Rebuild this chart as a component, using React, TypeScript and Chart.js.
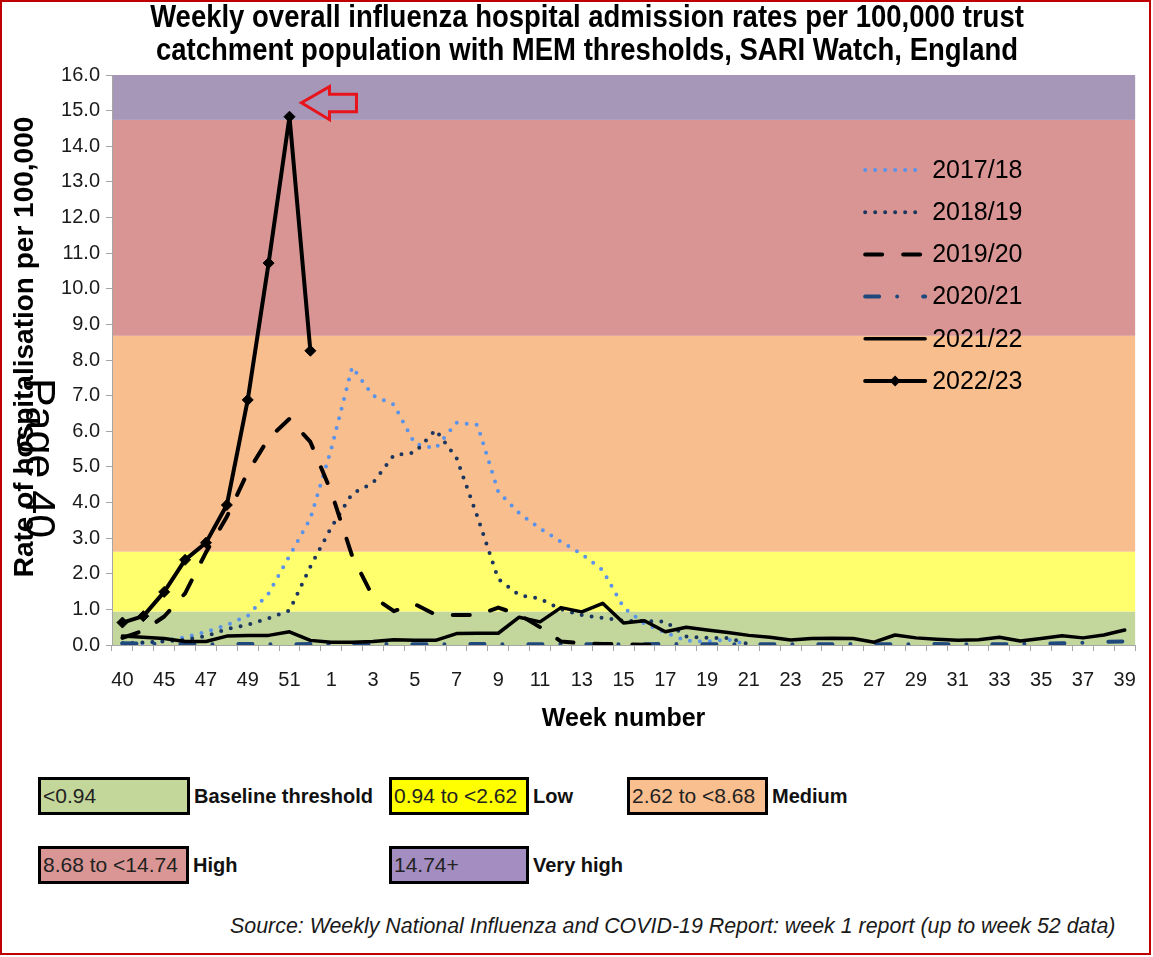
import React, { useEffect, useRef } from 'react';
import { Chart, registerables } from 'chart.js';

Chart.register(...registerables);

// ---------- data ----------
const weekLabels = ['40', '44', '45', '46', '47', '48', '49', '50', '51', '52',
  '1', '2', '3', '4', '5', '6', '7', '8', '9', '10',
  '11', '12', '13', '14', '15', '16', '17', '18', '19', '20',
  '21', '22', '23', '24', '25', '26', '27', '28', '29', '30',
  '31', '32', '33', '34', '35', '36', '37', '38', '39'];

const seasons = ['2017/18', '2018/19', '2019/20', '2020/21', '2021/22', '2022/23'];

const rate1718 = [0.03, 0.05, 0.12, 0.22, 0.37, 0.56, 0.82, 1.45, 2.5, 3.55,
  5.5, 7.8, 7.0, 6.75, 5.65, 5.52, 6.24, 6.18, 4.3, 3.7,
  3.27, 2.9, 2.55, 2.1, 1.05, 0.6, 0.35, 0.12, 0.1, 0.15, 0.0];

const rate1819 = [0.05, 0.07, 0.1, 0.15, 0.25, 0.45, 0.57, 0.75, 0.97, 2.2,
  3.3, 4.25, 4.55, 5.33, 5.4, 6.04, 5.25, 3.6, 1.85, 1.4,
  1.3, 1.0, 0.84, 0.76, 0.68, 0.67, 0.66, 0.24, 0.2, 0.2, 0.02];

const rate1920 = [0.2, 0.4, 0.8, 1.45, 2.6, 3.6, 4.85, 5.8, 6.35, 5.7,
  4.3, 2.5, 1.35, 0.95, 1.15, 0.85, 0.84, 0.84, 1.05, 0.85,
  0.5, 0.1, 0.05, 0.03, 0.02, 0.01, 0.01];

const rate2021 = [0.05, 0.04, 0.03, 0.03, 0.02, 0.02, 0.03, 0.02, 0.02, 0.03,
  0.02, 0.02, 0.02, 0.03, 0.02, 0.02, 0.02, 0.03, 0.02, 0.02,
  0.02, 0.03, 0.02, 0.02, 0.02, 0.02, 0.03, 0.02, 0.02, 0.02,
  0.03, 0.02, 0.02, 0.02, 0.02, 0.03, 0.02, 0.02, 0.02, 0.03,
  0.02, 0.02, 0.02, 0.03, 0.04, 0.05, 0.06, 0.09, 0.1];

const rate2122 = [0.25, 0.22, 0.18, 0.1, 0.1, 0.25, 0.27, 0.27, 0.37, 0.13,
  0.08, 0.08, 0.1, 0.15, 0.13, 0.13, 0.32, 0.33, 0.33, 0.78,
  0.65, 1.05, 0.93, 1.17, 0.62, 0.68, 0.37, 0.5, 0.42, 0.35,
  0.27, 0.22, 0.14, 0.18, 0.19, 0.18, 0.08, 0.28, 0.2, 0.16,
  0.13, 0.15, 0.22, 0.11, 0.18, 0.26, 0.2, 0.28, 0.42];

const rate2223 = [0.63, 0.81, 1.49, 2.39, 2.87, 3.93, 6.88, 10.72, 14.83, 8.26];

const seasonRates = [rate1718, rate1819, rate1920, rate2021, rate2122, rate2223];

const thresholdBounds = [0, 0.94, 2.62, 8.68, 14.74, 16];
const thresholdLabels = ['<0.94', '0.94 to <2.62', '2.62 to <8.68', '8.68 to <14.74', '14.74+'];
const thresholdNames = ['Baseline threshold', 'Low', 'Medium', 'High', 'Very high'];

const titleLines = [
  'Weekly overall influenza hospital admission rates per 100,000 trust',
  'catchment population with MEM thresholds, SARI Watch, England',
];
const yTitle = 'Rate of hospitalisation per 100,000';
const xTitle = 'Week number';
const sourceText = 'Source: Weekly National Influenza and COVID-19 Report: week 1 report (up to week 52 data)';
const pageStamp = 'Page 40';

// ---------- styles ----------
const FONT = "'Liberation Sans', Arial, sans-serif";

const bandColors = ['#C3D69B', '#FFFF6E', '#F9BE8E', '#D99594', '#A696B8'];
const boxColors = ['#C4D79B', '#FFFF00', '#FABF8F', '#DA9694', '#A48DC0'];

const seriesStyles = [
  { color: '#5B93E8', width: 4, dash: [0, 10], order: 6, marker: false },
  { color: '#1B365E', width: 4, dash: [0, 10], order: 5, marker: false },
  { color: '#000000', width: 4, dash: [17, 21], order: 3, marker: false },
  { color: '#1F497D', width: 4, dash: [14, 18, 0, 26], order: 4, marker: false },
  { color: '#000000', width: 3.5, dash: [], order: 2, marker: false },
  { color: '#000000', width: 4, dash: [], order: 1, marker: true },
];

const boxLayout = [
  { left: 38, top: 777, width: 152 },
  { left: 389, top: 777, width: 140 },
  { left: 627, top: 777, width: 141 },
  { left: 38, top: 846, width: 151 },
  { left: 389, top: 846, width: 140 },
];

// ---------- plugins ----------
const bandPlugin = {
  id: 'bands',
  beforeDraw(chart: any) {
    const { ctx, chartArea } = chart;
    const y = chart.scales.y;
    ctx.save();
    for (let i = 0; i < bandColors.length; i++) {
      const top = y.getPixelForValue(thresholdBounds[i + 1]);
      const bot = y.getPixelForValue(thresholdBounds[i]);
      ctx.fillStyle = bandColors[i];
      ctx.fillRect(chartArea.left, top, chartArea.right - chartArea.left, bot - top);
    }
    ctx.restore();
  },
};

function diamond(ctx: CanvasRenderingContext2D, x: number, y: number, r: number) {
  ctx.beginPath();
  ctx.moveTo(x - r, y);
  ctx.lineTo(x, y - r);
  ctx.lineTo(x + r, y);
  ctx.lineTo(x, y + r);
  ctx.closePath();
  ctx.fill();
}

const overlayPlugin = {
  id: 'overlay',
  afterDraw(chart: any) {
    const { ctx, chartArea } = chart;
    const xs = chart.scales.x;
    const ys = chart.scales.y;

    // title
    titleLines.forEach((line, i) => {
      ctx.save();
      ctx.translate(587, 19 + i * 33);
      ctx.scale(1, 1.12);
      ctx.fillStyle = '#000';
      ctx.textAlign = 'center';
      ctx.textBaseline = 'middle';
      ctx.font = `bold 27.5px ${FONT}`;
      ctx.fillText(line, 0, 0);
      ctx.restore();
    });

    // y title
    ctx.save();
    ctx.translate(25, 347);
    ctx.rotate(-Math.PI / 2);
    ctx.fillStyle = '#000';
    ctx.textAlign = 'center';
    ctx.textBaseline = 'middle';
    ctx.font = `bold 28px ${FONT}`;
    ctx.fillText(yTitle, 0, 0);
    ctx.restore();

    // legend
    const lx = chartArea.right - 270;
    const ly = chartArea.top + 95;
    chart.data.datasets.forEach((ds: any, i: number) => {
      const y = ly + i * 42.2;
      ctx.save();
      ctx.strokeStyle = ds.borderColor;
      ctx.lineWidth = ds.borderWidth;
      ctx.setLineDash(ds.borderDash || []);
      ctx.lineCap = 'round';
      ctx.beginPath();
      ctx.moveTo(lx, y);
      ctx.lineTo(lx + 60, y);
      ctx.stroke();
      if (ds.pointRadius > 0) {
        ctx.fillStyle = ds.borderColor;
        diamond(ctx, lx + 30, y, ds.pointRadius);
      }
      ctx.restore();
      ctx.save();
      ctx.fillStyle = '#000';
      ctx.font = `25px ${FONT}`;
      ctx.textAlign = 'left';
      ctx.textBaseline = 'middle';
      ctx.fillText(ds.label, lx + 67, y + 1);
      ctx.restore();
    });

    // red arrow pointing to the peak of the latest season
    let peak = 0;
    rate2223.forEach((v, i) => { if (v > rate2223[peak]) peak = i; });
    const tx = xs.getPixelForValue(peak) + 12;
    const ty = ys.getPixelForValue(rate2223[peak]) - 14;
    ctx.save();
    ctx.strokeStyle = '#E8141C';
    ctx.lineWidth = 3;
    ctx.lineJoin = 'miter';
    ctx.beginPath();
    ctx.moveTo(tx, ty);
    ctx.lineTo(tx + 28, ty - 16);
    ctx.lineTo(tx + 28, ty - 8.5);
    ctx.lineTo(tx + 55, ty - 8.5);
    ctx.lineTo(tx + 55, ty + 9);
    ctx.lineTo(tx + 28, ty + 9);
    ctx.lineTo(tx + 28, ty + 17);
    ctx.closePath();
    ctx.stroke();
    ctx.restore();

    // page stamp
    ctx.save();
    ctx.translate(38, 458);
    ctx.rotate(Math.PI / 2);
    ctx.fillStyle = '#000';
    ctx.textAlign = 'center';
    ctx.textBaseline = 'middle';
    ctx.font = `43px ${FONT}`;
    ctx.fillText(pageStamp, 0, 0);
    ctx.restore();
  },
};

export default function App() {
  const ref = useRef<HTMLCanvasElement>(null);

  useEffect(() => {
    const canvas = ref.current;
    if (!canvas) return;
    const datasets = seasons.map((name, i) => {
      const st = seriesStyles[i];
      return {
        label: name,
        data: seasonRates[i],
        borderColor: st.color,
        backgroundColor: st.color,
        borderWidth: st.width,
        borderDash: st.dash,
        borderCapStyle: 'round' as const,
        borderJoinStyle: 'round' as const,
        pointRadius: st.marker ? 5.5 : 0,
        pointStyle: 'rectRot' as const,
        pointBackgroundColor: st.color,
        pointBorderColor: st.color,
        pointBorderWidth: 1,
        fill: false,
        tension: 0,
        order: st.order,
      };
    });

    const chart = new Chart(canvas, {
      type: 'line',
      data: { labels: weekLabels, datasets },
      options: {
        responsive: false,
        animation: false,
        events: [],
        layout: { padding: { top: 75, right: 16, left: 0, bottom: 0 } },
        plugins: {
          legend: { display: false },
          title: { display: false },
          tooltip: { enabled: false },
        },
        scales: {
          x: {
            offset: true,
            grid: {
              display: true,
              drawOnChartArea: false,
              drawTicks: true,
              tickLength: 6,
              offset: true,
              color: '#A6A6A6',
            },
            border: { display: true, color: '#A6A6A6', width: 1 },
            ticks: {
              autoSkip: false,
              maxRotation: 0,
              minRotation: 0,
              padding: 17,
              color: '#1A1A1A',
              font: { family: FONT, size: 20 },
              callback: (_v: any, i: number) => (i % 2 === 0 ? weekLabels[i] : ''),
            },
            title: {
              display: true,
              text: xTitle,
              color: '#000',
              font: { family: FONT, size: 25, weight: 'bold' },
              padding: { top: 0, bottom: 11 },
            },
            afterFit: (s: any) => { s.height = 100; },
          },
          y: {
            min: 0,
            max: 16,
            grid: { drawOnChartArea: false, tickLength: 6, color: '#A6A6A6' },
            border: { display: true, color: '#A6A6A6', width: 1 },
            ticks: {
              stepSize: 1,
              padding: 6,
              color: '#1A1A1A',
              font: { family: FONT, size: 20 },
              callback: (v: any) => Number(v).toFixed(1),
            },
            afterFit: (s: any) => { s.width = 112; },
          },
        },
      },
      plugins: [bandPlugin, overlayPlugin],
    } as any);
    return () => chart.destroy();
  }, []);

  return (
    <div style={{ position: 'absolute', left: 0, top: 0, width: 1153, height: 957, background: '#fff', overflow: 'hidden' }}>
      <canvas ref={ref} width={1153} height={745} style={{ position: 'absolute', left: 0, top: 0, width: 1153, height: 745 }} />
      {thresholdLabels.map((lab, i) => {
        const b = boxLayout[i];
        return (
          <React.Fragment key={lab}>
            <div style={{
              position: 'absolute', left: b.left, top: b.top, width: b.width, height: 38,
              boxSizing: 'border-box', border: '3px solid #000', background: boxColors[i],
              fontFamily: FONT, fontSize: 21, lineHeight: '32px', paddingLeft: 2,
              whiteSpace: 'nowrap', color: '#222', overflow: 'hidden',
            }}>{lab}</div>
            <div style={{
              position: 'absolute', left: b.left + b.width + 4, top: b.top, height: 38,
              fontFamily: FONT, fontWeight: 'bold', fontSize: 20, lineHeight: '38px',
              whiteSpace: 'nowrap', color: '#111',
            }}>{thresholdNames[i]}</div>
          </React.Fragment>
        );
      })}
      <div style={{
        position: 'absolute', left: 230, top: 914, fontFamily: FONT, fontStyle: 'italic',
        fontSize: 21.4, whiteSpace: 'nowrap', color: '#1a1a1a',
      }}>{sourceText}</div>
      <div style={{
        position: 'absolute', left: 0, top: 0, width: 1151, height: 955, boxSizing: 'border-box',
        border: '2px solid #C00000', pointerEvents: 'none',
      }} />
    </div>
  );
}
